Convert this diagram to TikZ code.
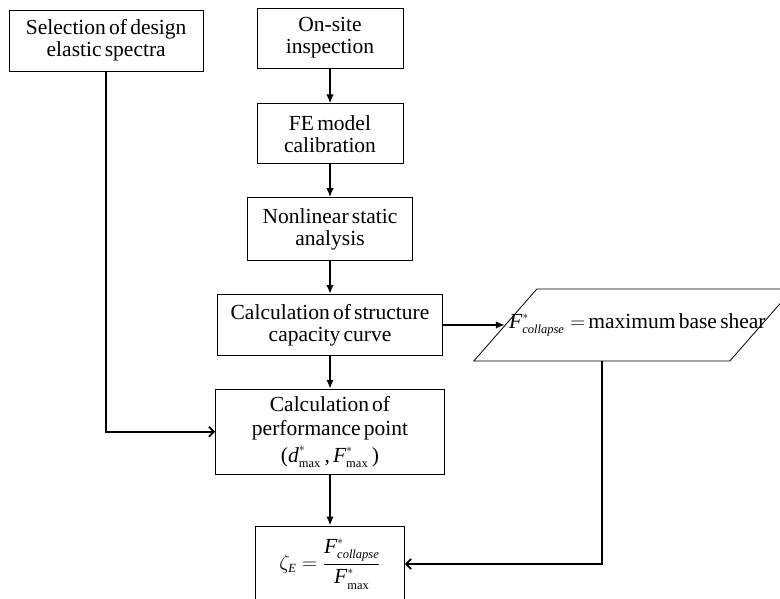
\documentclass[tikz,border=0pt]{standalone}
\usepackage{amsmath}
\usepackage{fontspec}
\setmainfont{Liberation Serif}[WordSpace=0.6]
\DeclareMathSizes{21.5}{21.5}{12.5}{9}
\usetikzlibrary{arrows.meta,positioning,calc}

\begin{document}
\begin{tikzpicture}[>=Latex,node distance=33pt,
    every node/.style={draw,line width=0.8pt,align=center,inner sep=2pt,font=\fontsize{21.5}{22}\selectfont},
    arr/.style={->,line width=1.8pt,>={Latex[length=9pt,width=7.5pt]}},
    barb/.style={-{Straight Barb[length=5pt,width=10pt]},line width=1.8pt}]
    \useasboundingbox (0,0) rectangle (780pt,-599pt);
    \node (onsite) at (330pt,-38pt) [minimum width=146pt,minimum height=60pt] {On-site\\inspection};
    \node (femodel) [below=35pt of onsite,minimum width=146pt,minimum height=60pt] {FE model\\calibration};
    \node (nonlin) [below=of femodel,minimum width=165pt,minimum height=63pt] {Nonlinear static\\analysis};
    \node (capcurve) [below=of nonlin,minimum width=225pt,minimum height=61pt] {Calculation of structure\\capacity curve};
    \node (perfpt) [below=of capcurve,minimum width=229pt,minimum height=85pt] {Calculation of\\[2pt]performance point\\[5pt]\textup{(}$\textit{d}^{*}_{\textup{max}}$\,, $\textit{F}^{*}_{\textup{max}}$\,\textup{)}};
    \node (zeta) [below=51pt of perfpt,minimum width=149pt,minimum height=76pt] {$\zeta_{\textit{E}} = \dfrac{\textit{F}^{*}_{\textit{collapse}}}{\textit{F}^{*}_{\textup{max}}}$};
    \node (spectra) [left=53pt of onsite,yshift=-2.5pt,minimum width=194pt,minimum height=61pt] {Selection of design\\elastic spectra};
    \node (shear) [draw=none,inner sep=0pt] at ($(capcurve.east)+(194.5pt,0)$) {$\textit{F}^{*}_{\textit{collapse}} = $ maximum base shear};
    \draw[line width=0.8pt] ($(shear)+(-163.5pt,-36pt)$) -- ++(63pt,72pt) -- ++(256pt,0) -- ++(-63pt,-72pt) -- cycle;
    \coordinate (shearin) at ($(shear)+(-132.5pt,0)$);
    \coordinate (shearout) at ($(shear)+(-35.5pt,-36pt)$);
    \draw[arr] (onsite) -- (femodel);
    \draw[arr] (femodel) -- (nonlin);
    \draw[arr] (nonlin) -- (capcurve);
    \draw[arr] (capcurve) -- (perfpt);
    \draw[arr] (perfpt) -- (zeta);
    \draw[arr] (capcurve) -- (shearin);
    \draw[barb] (spectra) |- (perfpt);
    \draw[barb] (shearout) |- (zeta);
  \end{tikzpicture}
\end{document}
